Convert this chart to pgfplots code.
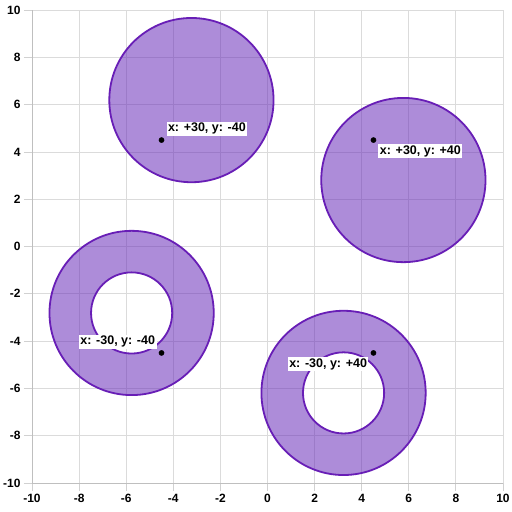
\documentclass[border=0pt]{standalone}
\usepackage{fontspec}
\setmainfont{Liberation Sans}
\usepackage{pgfplots}
\pgfplotsset{compat=1.18}
\definecolor{ringfill}{RGB}{105,45,185}
\definecolor{ringline}{RGB}{104,30,182}
% inner radius / outer radius of the two rings (read off the picture: 1.72 / 3.48)
\newcommand\ringratio{0.494}
\pgfdeclareplotmark{ring}{%
  \pgfseteorule
  \pgfpathcircle{\pgfpointorigin}{\pgfplotmarksize}%
  \pgfpathcircle{\pgfpointorigin}{\ringratio\pgfplotmarksize}%
  \pgfusepathqfillstroke}
\pgfplotsset{
  blob/.style={scatter, only marks, mark=#1,
    point meta=explicit, point meta min=0, point meta max=10,
    mark options={draw=ringline, fill=ringfill, fill opacity=0.55, line width=1.8pt},
    scatter/@pre marker code/.code={%
      \pgfmathsetmacro\rpt{\pgfplotspointmetatransformed*0.236}%
      \scope[mark size=\rpt pt]},
    scatter/@post marker code/.code={\endscope}},
  lbl/.style={only marks, mark=*, mark size=2.6pt, black,
    point meta=explicit symbolic, nodes near coords,
    every node near coord/.append style={anchor=#1, outer xsep=5pt, outer ysep=4pt,
      fill=white, inner sep=1.5pt, text=black,
      font=\bfseries\fontsize{12.5}{13}\selectfont}},
}

\begin{document}
\begin{tikzpicture}
\begin{axis}[
  x=23.55pt, y=23.65pt, anchor=origin, at={(0,0)},
  xmin=-10, xmax=10, ymin=-10, ymax=10,
  xtick={-10,-8,...,10}, ytick={-10,-8,...,10},
  grid=major, major grid style={draw=black!14, line width=0.8pt},
  axis lines*=left, axis line style={draw=black!25, line width=0.8pt},
  tick align=outside, major tick length=8pt,
  tick style={draw=black!18, line width=0.8pt},
  ticklabel style={font=\bfseries\fontsize{12}{12}\selectfont},
  /pgf/number format/assume math mode=true,
  clip=false,
]
% x y radius
\addplot[blob=*] table[meta=r] {
x y r
-3.23 6.19 3.48
5.77 2.81 3.48
};
\addplot[blob=ring] table[meta=r] {
x y r
-5.77 -2.81 3.48
3.23 -6.19 3.48
};
\addplot[lbl=south west] coordinates {(-4.5,4.5) [x: +30, y: -40]};
\addplot[lbl=north west] coordinates {(4.5,4.5) [x: +30, y: +40]};
\addplot[lbl=south east] coordinates {(-4.5,-4.5) [x: -30, y: -40]};
\addplot[lbl=north east] coordinates {(4.5,-4.5) [x: -30, y: +40]};
\end{axis}
\pgfresetboundingbox
\path[use as bounding box] (-267.5pt,-265.5pt) rectangle (244.5pt,246.5pt);
\end{tikzpicture}
\end{document}
